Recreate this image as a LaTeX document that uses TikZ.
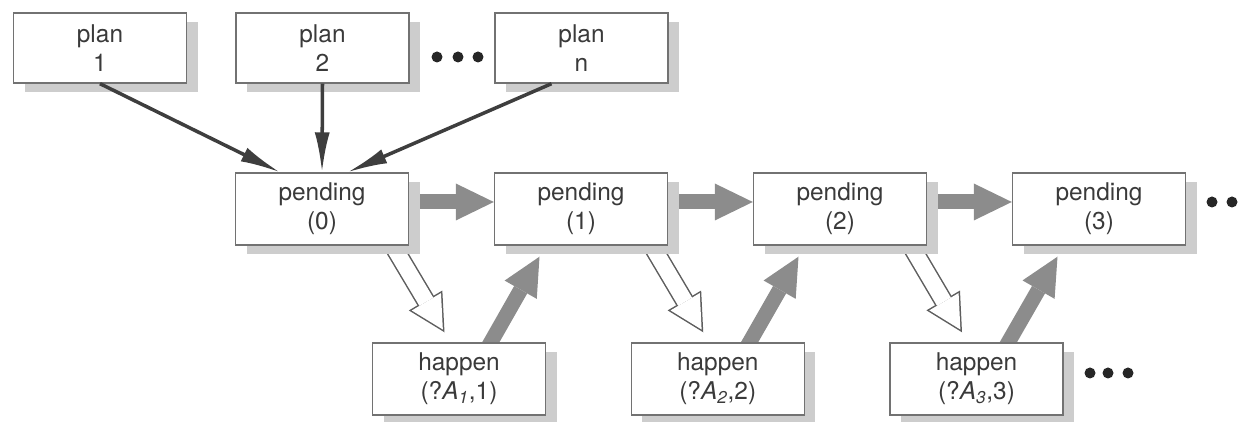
\documentclass[tikz,border=0pt]{standalone}
\usepackage{fontspec}
\setmainfont{TeX Gyre Heros}
\usetikzlibrary{arrows.meta,shadows,positioning,backgrounds}
\definecolor{boxline}{HTML}{727272}
\definecolor{textgray}{HTML}{3A3A3A}
\definecolor{shadowgray}{HTML}{CDCDCD}
\definecolor{fatgray}{HTML}{8C8C8C}
\definecolor{planarr}{HTML}{3E3E3E}
\definecolor{hollowline}{HTML}{5E5E5E}

\begin{document}
\begin{tikzpicture}[font=\fontsize{13.9}{16.5}\selectfont,
  box/.style={draw=boxline, line width=0.8pt, fill=white, text=textgray, align=center, inner sep=0pt,
    minimum width=3.46cm, minimum height=1.44cm,
    drop shadow={shadow xshift=0.22cm, shadow yshift=-0.18cm, fill=shadowgray, opacity=1}},
  planbox/.style={box, minimum height=1.40cm},
  planarrow/.style={draw=planarr, line width=2pt, -{Latex[length=0.8cm,width=0.3cm]}},
  fatarrow/.style={draw=fatgray, line width=0.3cm, -{Triangle[length=0.76cm,width=0.74cm,line width=0pt]}},
  hollowout/.style={draw=hollowline, line width=0.38cm, -{Triangle[length=0.74cm,width=0.78cm,line width=0pt]}},
  hollowin/.style={draw=white, line width=0.32cm, shorten >=0.064cm, -{Triangle[length=0.646cm,width=0.68cm,line width=0pt]}},
  dot/.style={fill=black!85}]
  \useasboundingbox (0,0) rectangle (24.9,8.44);
  % plans on top
  \node[planbox] (plan1) at (2.00,7.48) {plan\\1};
  \node[planbox] (plan2) at (6.45,7.48) {plan\\2};
  \node[planbox] (plann) at (11.63,7.48) {plan\\n};
  \foreach \x in {8.74,9.16,9.56} \path[dot] (\x,7.30) circle[radius=0.11];
  % pending chain
  \foreach \i/\x in {0/6.44,1/11.62,2/16.80,3/21.98} \node[box] (pend\i) at (\x,4.26) {pending\\(\i)};
  \foreach \x in {24.24,24.64} \path[dot] (\x,4.40) circle[radius=0.11];
  % happen boxes
  \foreach \i/\x in {1/9.18,2/14.355,3/19.53} \node[box] (hap\i) at (\x,0.86) {happen\\(?\textit{A\textsubscript{\i}},\i)};
  \foreach \x in {21.80,22.16,22.56} \path[dot] (\x,0.98) circle[radius=0.11];

  \draw[planarrow] (plan1.south) -- ([xshift=-0.84cm]pend0.north);
  \draw[planarrow] (plan2.south) -- (pend0.north);
  \draw[planarrow] ([xshift=-0.6cm]plann.south) -- ([xshift=0.51cm]pend0.north);

  \begin{scope}[on background layer]
  \foreach \i/\j in {0/1,1/2,2/3} \draw[fatarrow] ([yshift=0.14cm]pend\i.east) -- ([yshift=0.14cm]pend\j.west);
  \foreach \i/\j in {0/1,1/2,2/3}{
    \draw[hollowout] ([xshift=1.33cm,yshift=0.15cm]pend\i.south) -- ([xshift=-0.29cm,yshift=0.2cm]hap\j.north);
    \draw[hollowin] ([xshift=1.33cm,yshift=0.15cm]pend\i.south) -- ([xshift=-0.29cm,yshift=0.2cm]hap\j.north);
    \draw[fatarrow] ([xshift=0.55cm,yshift=-0.15cm]hap\j.north) -- ([xshift=-0.83cm,yshift=-0.22cm]pend\j.south);
  }
  \end{scope}
\end{tikzpicture}
\end{document}
